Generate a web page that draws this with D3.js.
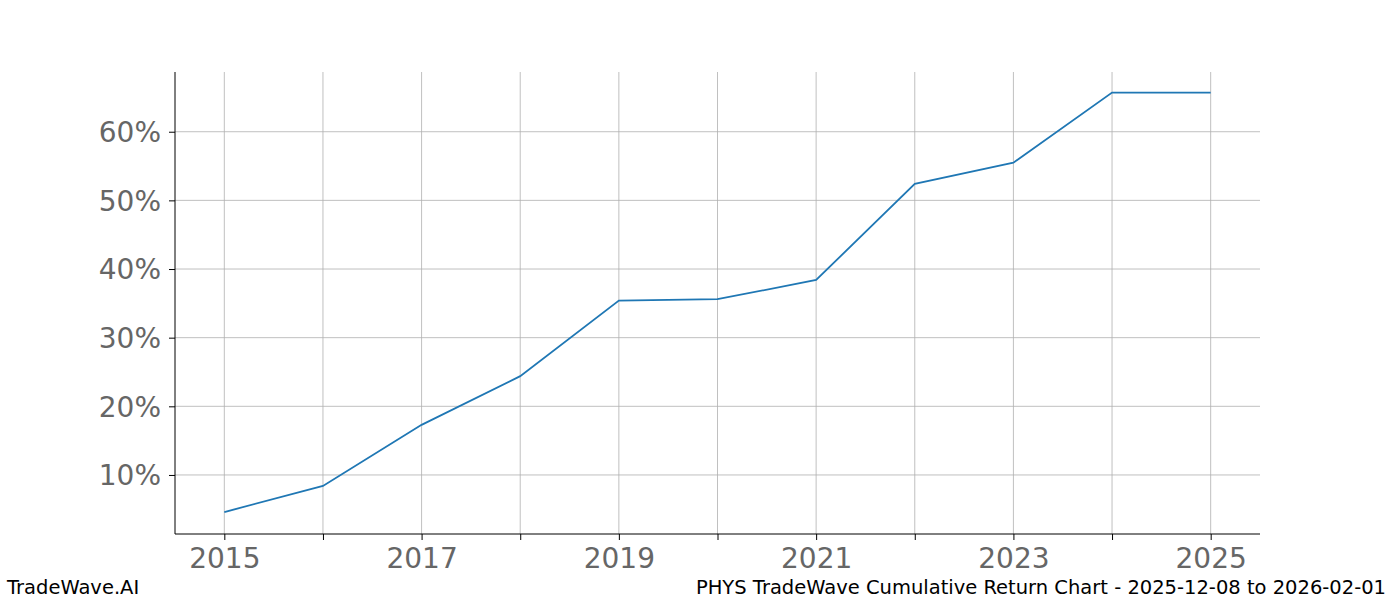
<!DOCTYPE html>
<html>
<head>
<meta charset="UTF-8"/>
<script src="https://d3js.org/d3.v7.min.js"></script>
<style>body{margin:0;background:#fff;font-family:"DejaVu Sans",sans-serif;}</style>
</head>
<body>
<div id="chart"></div>
<script>
var years = [2015,2016,2017,2018,2019,2020,2021,2022,2023,2024,2025];
var returns = [4.6,8.4,17.3,24.4,35.4,35.6,38.4,52.4,55.5,65.7,65.7];
var yTicks = [10,20,30,40,50,60];
var leftText = "TradeWave.AI";
var rightText = "PHYS TradeWave Cumulative Return Chart - 2025-12-08 to 2026-02-01";

var w = 1400, h = 600;
var x0 = 175, x1 = 1260, y0 = 534, y1 = 72;

var svg = d3.select("#chart").append("svg").attr("width", w).attr("height", h);

var x = d3.scaleLinear().domain([2014.5, 2025.5]).range([x0, x1]);
var y = d3.scaleLinear().domain([1.4, 68.7]).range([y0, y1]);

// grid
svg.append("g").selectAll("line").data(years).enter().append("line")
  .attr("x1", d => x(d)).attr("x2", d => x(d)).attr("y1", y0).attr("y2", y1)
  .attr("stroke", "#b0b0b0").attr("stroke-width", 0.8);
svg.append("g").selectAll("line").data(yTicks).enter().append("line")
  .attr("x1", x0).attr("x2", x1).attr("y1", d => y(d)).attr("y2", d => y(d))
  .attr("stroke", "#b0b0b0").attr("stroke-width", 0.8);

var xAxis = d3.axisBottom(x).tickValues(years).tickSize(6).tickPadding(8)
  .tickFormat(d => d % 2 === 1 ? d : "");
var gx = svg.append("g").attr("transform", "translate(0," + y0 + ")").call(xAxis);
gx.select(".domain").attr("d", "M" + x0 + ",0H" + x1);

var yAxis = d3.axisLeft(y).tickValues(yTicks).tickSize(6).tickPadding(8)
  .tickFormat(d => d + "%");
var gy = svg.append("g").attr("transform", "translate(" + x0 + ",0)").call(yAxis);
gy.select(".domain").attr("d", "M0," + y0 + "V" + y1);

svg.selectAll(".tick text").attr("font-family", "DejaVu Sans").attr("font-size", "28px").attr("fill", "#666");
svg.selectAll(".tick line").attr("stroke", "#000");
svg.selectAll(".domain").attr("stroke", "#000");
gy.selectAll(".tick text").attr("dy", "0.35em");

var line = d3.line().x((d, i) => x(years[i])).y(d => y(d));
svg.append("path").datum(returns).attr("d", line)
  .attr("fill", "none").attr("stroke", "#1f77b4").attr("stroke-width", 1.8);

svg.append("text").attr("x", 7).attr("y", 594).attr("font-size", "19.5px").text(leftText);
svg.append("text").attr("x", 1386).attr("y", 594).attr("text-anchor", "end").attr("font-size", "19.5px").text(rightText);
</script>
</body>
</html>
